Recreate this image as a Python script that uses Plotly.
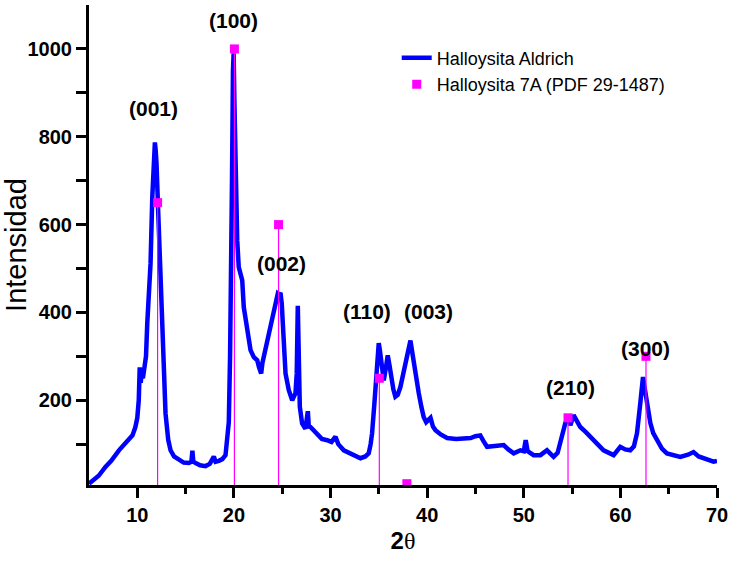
import plotly.graph_objects as go

# --- Measured pattern: Halloysita Aldrich (2theta, intensity) ---
two_theta = [5.0, 5.5, 6.0, 6.7, 7.3, 8.1, 8.6, 9.1, 9.5, 9.8, 10.0, 10.15, 10.25, 10.35, 10.45,
             10.58, 10.75, 10.9, 11.03, 11.2, 11.37, 11.55, 11.7, 11.82, 11.9, 11.99, 12.17, 12.4,
             12.65, 12.92, 13.2, 13.44, 13.8, 14.3, 14.8, 15.33, 15.6, 15.7, 15.8, 16.03, 16.5,
             17.06, 17.5, 17.92, 18.1, 18.44, 18.8, 19.13, 19.3, 19.47, 19.6, 19.72, 19.8, 19.9,
             19.97, 20.05, 20.17, 20.34, 20.5, 20.7, 20.86, 21.02, 21.2, 21.37, 21.72, 22.06,
             22.41, 22.6, 22.82, 22.95, 23.09, 23.35, 23.61, 24.13, 24.54, 24.7, 24.82, 24.95,
             25.16, 25.34, 25.68, 26.03, 26.37, 26.5, 26.61, 26.7, 26.82, 27.06, 27.4, 27.65,
             27.75, 27.92, 28.62, 29.1, 29.65, 30.1, 30.51, 30.8, 31.37, 32.06, 32.6, 33.1, 33.6,
             33.95, 34.15, 34.3, 34.54, 34.82, 34.99, 35.1, 35.23, 35.4, 35.51, 35.7, 35.92, 36.1,
             36.27, 36.5, 36.71, 36.95, 37.23, 37.5, 37.75, 38.0, 38.27, 38.45, 38.61, 38.85,
             39.13, 39.4, 39.64, 39.9, 40.16, 40.35, 40.6, 40.86, 41.4, 42.07, 43.0, 43.78, 44.5,
             45.0, 45.5, 45.8, 46.2, 47.0, 47.92, 48.4, 48.96, 49.65, 50.0, 50.2, 50.4, 51.02,
             51.72, 52.4, 53.09, 53.5, 53.78, 54.05, 54.3, 54.64, 54.82, 55.16, 55.5, 55.85,
             56.4, 56.89, 57.6, 58.26, 59.3, 59.99, 60.5, 61.02, 61.4, 61.72, 62.06, 62.34, 62.5,
             62.68, 63.1, 63.4, 63.79, 64.3, 64.82, 65.5, 66.2, 67.0, 67.57, 68.1, 68.6, 69.2,
             69.64, 70.0]
intensity = [10, 18, 28, 48, 62, 86, 97, 109, 120, 139, 160, 200, 275, 240, 260,
             250, 275, 300, 375, 440, 511, 662, 740, 787, 770, 738, 625, 473,
             321, 170, 110, 86, 72, 64, 58, 57, 60, 85, 60, 57, 52,
             50, 55, 72, 60, 62, 66, 75, 109, 150, 300, 480, 700, 950,
             990, 880, 716, 564, 503, 480, 473, 412, 385, 367, 314, 298,
             291, 275, 261, 285, 298, 325, 352, 398, 443, 440, 445, 420,
             336, 261, 223, 200, 216, 260, 415, 250, 185, 147, 135, 175,
             140, 139, 124, 112, 109, 105, 117, 100, 86, 78, 72, 68, 72,
             79, 100, 125, 193, 291, 330, 315, 284, 250, 245, 270, 302, 280,
             253, 225, 208, 212, 230, 255, 284, 310, 336, 310, 284, 250,
             216, 185, 162, 150, 155, 160, 140, 132, 122, 114, 112, 114, 114,
             118, 120, 108, 94, 96, 98, 88, 79, 86, 84, 109, 84, 75,
             75, 86, 71, 80, 102, 125, 148, 162, 143, 166, 152, 139,
             128, 117, 100, 86, 75, 94, 88, 86, 95, 125, 193, 253, 230,
             200, 148, 125, 109, 90, 79, 74, 71, 76, 82, 72, 68, 64,
             60, 62]

# --- Reference pattern: Halloysita 7A (PDF 29-1487) ---
ref_theta = [12.1, 20.05, 24.62, 35.05, 37.9, 54.58, 62.65]
ref_intensity = [650, 1000, 600, 250, 10, 160, 300]

# --- Miller index labels ---
hkl_labels = ["(001)", "(100)", "(002)", "(110)", "(003)", "(210)", "(300)"]
hkl_x = [11.68, 19.96, 24.92, 33.82, 40.13, 54.82, 62.58]
hkl_y = [864, 1064, 511, 402, 402, 230, 318]

x_ticks = [10, 20, 30, 40, 50, 60, 70]
y_ticks = [200, 400, 600, 800, 1000]

FONT = "Arial, Liberation Sans, sans-serif"
BLUE = "#0000FF"
MAGENTA = "#FF00FF"

fig = go.Figure()

fig.add_trace(go.Scatter(
    x=two_theta, y=intensity, mode="lines",
    line=dict(color=BLUE, width=4.5),
    name="Halloysita Aldrich",
))

stem_x, stem_y = [], []
for xv, yv in zip(ref_theta, ref_intensity):
    stem_x += [xv, xv, None]
    stem_y += [0, yv, None]
fig.add_trace(go.Scatter(
    x=stem_x, y=stem_y, mode="lines",
    line=dict(color=MAGENTA, width=1.2),
    showlegend=False, hoverinfo="skip",
))
fig.add_trace(go.Scatter(
    x=ref_theta, y=ref_intensity, mode="markers",
    marker=dict(symbol="square", size=9, color=MAGENTA),
    name="Halloysita 7A (PDF 29-1487)",
))

for t, xv, yv in zip(hkl_labels, hkl_x, hkl_y):
    fig.add_annotation(x=xv, y=yv, text=f"<b>{t}</b>", showarrow=False,
                       xanchor="center", yanchor="middle",
                       font=dict(family=FONT, size=21, color="black"))

fig.update_layout(
    width=739, height=563,
    margin=dict(l=89, r=22, t=5, b=78),
    paper_bgcolor="white", plot_bgcolor="white",
    font=dict(family=FONT, color="black"),
    legend=dict(x=0.49, y=0.928, xanchor="left", yanchor="top",
                bgcolor="rgba(0,0,0,0)", borderwidth=0,
                font=dict(family=FONT, size=18, color="black"),
                tracegroupgap=0, itemwidth=30),
)

fig.update_xaxes(
    range=[5, 70], tickvals=x_ticks, ticktext=[str(v) for v in x_ticks],
    showgrid=False, zeroline=False, automargin=False,
    showline=True, linecolor="black", linewidth=3,
    ticks="outside", ticklen=10, tickwidth=2.5, tickcolor="black",
    tickfont=dict(family=FONT, size=20, color="black", weight="bold"),
    minor=dict(tickvals=[15, 25, 35, 45, 55, 65], ticks="outside", ticklen=6,
               tickwidth=2.5, tickcolor="black"),
    title=dict(text='<b>2</b><span style="font-family:Liberation Serif, serif;font-weight:normal">θ</span>',
               font=dict(family=FONT, size=24, color="black"), standoff=8),
)
fig.update_yaxes(
    range=[7, 1100], tickvals=y_ticks, ticktext=[str(v) for v in y_ticks],
    showgrid=False, zeroline=False, automargin=False,
    showline=True, linecolor="black", linewidth=3,
    ticks="outside", ticklen=10, tickwidth=2.5, tickcolor="black",
    tickfont=dict(family=FONT, size=20, color="black", weight="bold"),
    minor=dict(tickvals=[100, 300, 500, 700, 900], ticks="outside", ticklen=10,
               tickwidth=2.5, tickcolor="black"),
    title=dict(text="Intensidad", font=dict(family=FONT, size=29, color="black"), standoff=3),
)

fig.write_html("out.html", config={"displayModeBar": False},
               post_script="document.body.style.margin='0';")
